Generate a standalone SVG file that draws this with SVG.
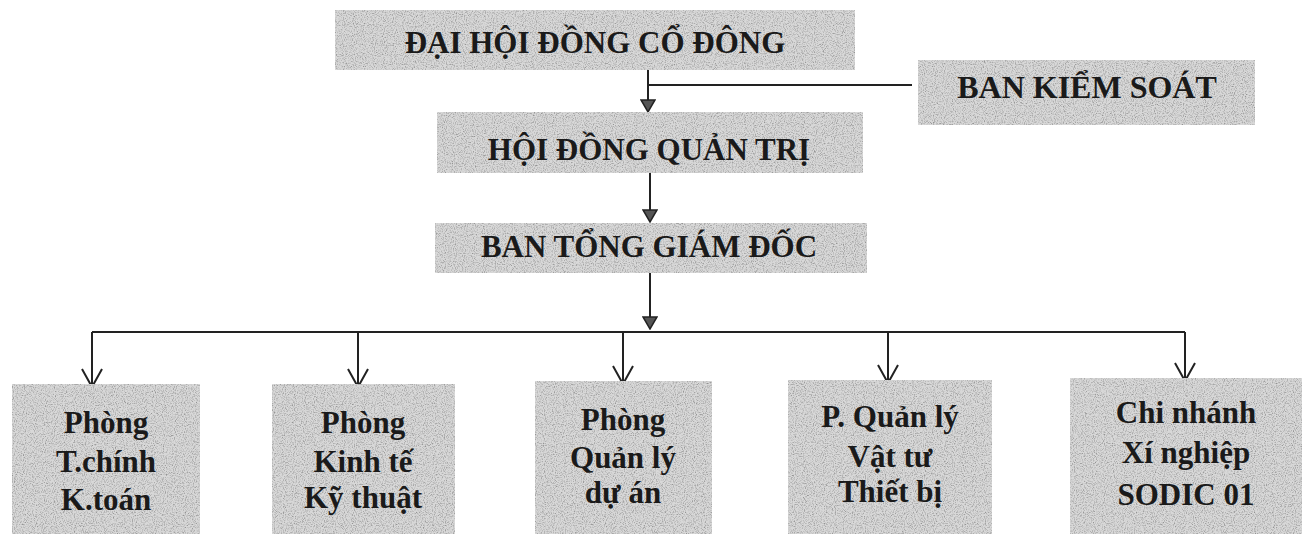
<svg xmlns="http://www.w3.org/2000/svg" width="1308" height="536" viewBox="0 0 1308 536">
<style>
.box{fill:#d8d8d8;filter:url(#grain);}
.t{font-family:"Liberation Serif","Times New Roman",serif;font-weight:bold;font-size:31px;fill:#1a1a1a;text-anchor:middle;}
.ln{stroke:#222;stroke-width:2;fill:none;}
</style>
<defs>
<filter id="grain" x="0" y="0" width="100%" height="100%">
<feTurbulence type="fractalNoise" baseFrequency="0.9" numOctaves="2" seed="3" result="n"/>
<feColorMatrix in="n" type="matrix" values="0 0 0 0 0.3  0 0 0 0 0.3  0 0 0 0 0.3  2.5 0 0 0 -1.1" result="g"/>
<feComposite in="g" in2="SourceGraphic" operator="in" result="gm"/>
<feMerge><feMergeNode in="SourceGraphic"/><feMergeNode in="gm"/></feMerge>
</filter>
<marker id="fa" viewBox="0 0 16 14" refX="8" refY="13" markerWidth="16" markerHeight="14" markerUnits="userSpaceOnUse">
<path d="M1,1 L15,1 L8,13 Z" fill="#555" stroke="#222" stroke-width="1.5"/>
</marker>
<marker id="va" viewBox="0 0 24 22" refX="12" refY="20" markerWidth="24" markerHeight="22" markerUnits="userSpaceOnUse">
<path d="M2,2 L12,20 L22,2" fill="none" stroke="#222" stroke-width="2"/>
</marker>
</defs>
<rect width="1308" height="536" fill="#ffffff"/>

<g id="connectors">
<path class="ln" d="M648,70 V112" marker-end="url(#fa)"/>
<path class="ln" d="M912,85 H648"/>
<path class="ln" d="M650,173 V222" marker-end="url(#fa)"/>
<path class="ln" d="M650,273 V329" marker-end="url(#fa)"/>
<path class="ln" d="M92,332 H1185"/>
<path class="ln" d="M92,332 V387" marker-end="url(#va)"/>
<path class="ln" d="M358,332 V387" marker-end="url(#va)"/>
<path class="ln" d="M623,332 V384" marker-end="url(#va)"/>
<path class="ln" d="M888,332 V383" marker-end="url(#va)"/>
<path class="ln" d="M1185,332 V381" marker-end="url(#va)"/>
</g>

<g id="dhdcd">
<rect class="box" x="335" y="10" width="520" height="60"/>
<text class="t" x="595" y="53">ĐẠI HỘI ĐỒNG CỔ ĐÔNG</text>
</g>
<g id="bks">
<rect class="box" x="918" y="60" width="337" height="65"/>
<text class="t" x="1087" y="98" style="font-size:32px">BAN KIỂM SOÁT</text>
</g>
<g id="hdqt">
<rect class="box" x="437" y="112" width="426" height="61"/>
<text class="t" x="649" y="160">HỘI ĐỒNG QUẢN TRỊ</text>
</g>
<g id="btgd">
<rect class="box" x="435" y="223" width="432" height="50"/>
<text class="t" x="649" y="257">BAN TỔNG GIÁM ĐỐC</text>
</g>

<g id="p1">
<rect class="box" x="12" y="384" width="188" height="150"/>
<text class="t" x="106" y="433">Phòng</text>
<text class="t" x="106" y="472">T.chính</text>
<text class="t" x="106" y="510">K.toán</text>
</g>
<g id="p2">
<rect class="box" x="272" y="384" width="183" height="150"/>
<text class="t" x="363" y="433">Phòng</text>
<text class="t" x="363" y="472">Kinh tế</text>
<text class="t" x="363" y="508">Kỹ thuật</text>
</g>
<g id="p3">
<rect class="box" x="535" y="381" width="177" height="153"/>
<text class="t" x="623" y="430">Phòng</text>
<text class="t" x="623" y="468">Quản lý</text>
<text class="t" x="623" y="503">dự án</text>
</g>
<g id="p4">
<rect class="box" x="788" y="380" width="204" height="154"/>
<text class="t" x="890" y="427">P. Quản lý</text>
<text class="t" x="890" y="467">Vật tư</text>
<text class="t" x="890" y="502">Thiết bị</text>
</g>
<g id="p5">
<rect class="box" x="1070" y="378" width="232" height="156"/>
<text class="t" x="1186" y="423">Chi nhánh</text>
<text class="t" x="1186" y="463">Xí nghiệp</text>
<text class="t" x="1186" y="505">SODIC 01</text>
</g>
</svg>
